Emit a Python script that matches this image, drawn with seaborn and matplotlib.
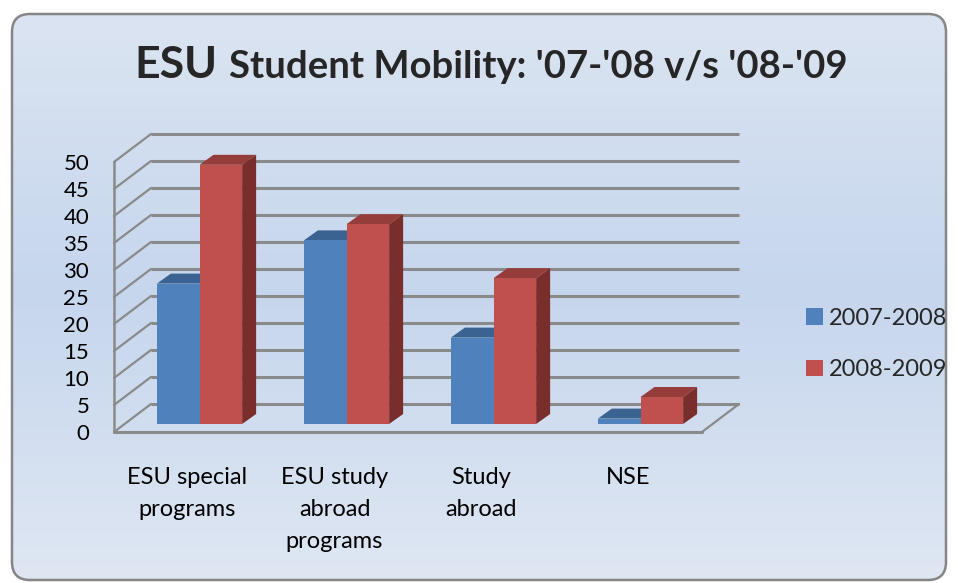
import numpy as np
import pandas as pd
import matplotlib
matplotlib.use("Agg")
import matplotlib.pyplot as plt
import seaborn as sns
from matplotlib.patches import FancyBboxPatch, Polygon
from matplotlib.colors import LinearSegmentedColormap
from matplotlib.transforms import ScaledTranslation

# data
categories = ["ESU special\nprograms", "ESU study\nabroad\nprograms", "Study\nabroad", "NSE"]
periods = ["2007-2008", "2008-2009"]
values_0708 = [26, 34, 16, 1]
values_0809 = [48, 37, 27, 5]
y_ticks = list(range(0, 55, 5))

front_colors = {"2007-2008": "#4f81bd", "2008-2009": "#c0504d"}
top_colors = ["#3b6391", "#953d3a"]
side_colors = ["#2f5382", "#792e2c"]
grid_color = "#8a8a8a"

df = pd.DataFrame({
    "Category": categories * 2,
    "Period": [periods[0]] * len(categories) + [periods[1]] * len(categories),
    "Students": values_0708 + values_0809,
})

sns.set_theme(style="white")
plt.rcParams["font.family"] = ["Lato", "DejaVu Sans"]

W, H = 958, 583
fig = plt.figure(figsize=(W / 100, H / 100), dpi=100)

# --- background panel with rounded frame and soft gradient ---
bg = fig.add_axes([0, 0, 1, 1])
bg.set_xlim(0, W)
bg.set_ylim(H, 0)
bg.axis("off")
frame = FancyBboxPatch((12, 14), W - 24, 566, boxstyle="round,pad=0,rounding_size=18",
                       fc="none", ec="#868686", lw=1.8, zorder=3)
bg.add_patch(frame)
grad = LinearSegmentedColormap.from_list(
    "panel", [(0, "#dce5f2"), (0.5, "#c6d6ed"), (1, "#dfe7f3")])
im = bg.imshow(np.linspace(0, 1, 256).reshape(-1, 1), cmap=grad, aspect="auto",
               extent=(0, W, H, 0), zorder=1)
im.set_clip_path(frame)

# --- plot area (bar plane) ---
L, R, B, T = 126, 714, 424, 154
ax = fig.add_axes([L / W, 1 - B / H, (R - L) / W, (B - T) / H])
ax.patch.set_alpha(0)

sns.barplot(data=df, x="Category", y="Students", hue="Period", palette=front_colors,
            width=0.58, saturation=1, edgecolor="none", linewidth=0, zorder=3, ax=ax)
handles, labels = ax.get_legend_handles_labels()
if ax.get_legend() is not None:
    ax.get_legend().remove()

x_lo, x_hi = -0.5, len(categories) - 0.5
ax.set_xlim(x_lo, x_hi)
ax.set_ylim(0, 50)

px_x = (R - L) / (x_hi - x_lo)
px_y = (B - T) / 50

# 3D faces of the bars
ddx, ddy = 14 / px_x, 10 / px_y
for i, cont in enumerate(ax.containers):
    for bar in cont:
        x0, w, h = bar.get_x(), bar.get_width(), bar.get_height()
        ax.add_patch(Polygon([(x0, h), (x0 + ddx, h + ddy), (x0 + w + ddx, h + ddy), (x0 + w, h)],
                             closed=True, fc=top_colors[i], ec="none", zorder=2, clip_on=False))
        ax.add_patch(Polygon([(x0 + w, 0), (x0 + w + ddx, ddy), (x0 + w + ddx, h + ddy), (x0 + w, h)],
                             closed=True, fc=side_colors[i], ec="none", zorder=2, clip_on=False))

# walls: front plane and back plane offsets
fx, fy = -12 / px_x, -8 / px_y
bx, by = 25 / px_x, 20 / px_y
for v in y_ticks:
    ax.plot([x_lo + bx, x_hi + bx], [v + by, v + by], color=grid_color, lw=2.2,
            zorder=1, clip_on=False, solid_capstyle="butt")
    ax.plot([x_lo + fx, x_lo + bx], [v + fy, v + by], color=grid_color, lw=1.6,
            zorder=1, clip_on=False)
ax.plot([x_lo + fx, x_lo + fx], [fy, y_ticks[-1] + fy], color=grid_color, lw=1.8, zorder=1, clip_on=False)
ax.plot([x_lo + fx, x_hi + fx], [fy, fy], color=grid_color, lw=2.2, zorder=1, clip_on=False)
ax.plot([x_hi + fx, x_hi + bx], [fy, by], color=grid_color, lw=1.6, zorder=1, clip_on=False)

# ticks
sns.despine(ax=ax, left=True, bottom=True)
ax.grid(False)
ax.set_xlabel("")
ax.set_ylabel("")
ax.set_yticks(y_ticks)
ax.set_yticklabels([str(v) for v in y_ticks])
ax.tick_params(axis="y", length=0, pad=26.5, labelsize=16, labelcolor="black")
for lab in ax.get_yticklabels():
    lab.set_transform(lab.get_transform() + ScaledTranslation(0, -0.08, fig.dpi_scale_trans))

ax.set_xticks(range(len(categories)))
ax.set_xticklabels(categories)
ax.tick_params(axis="x", length=0, pad=31, labelsize=17, labelcolor="black")
for lab in ax.get_xticklabels():
    lab.set_linespacing(1.65)
    lab.set_transform(lab.get_transform() + ScaledTranslation(-0.12, 0, fig.dpi_scale_trans))

# legend
fig.legend(handles, labels, loc="center left", bbox_to_anchor=(806 / W, 1 - 344 / H),
           frameon=False, fontsize=17, handlelength=0.7, handleheight=0.7,
           handletextpad=0.25, labelspacing=1.3, borderpad=0, borderaxespad=0)

# title: larger "ESU" followed by the rest
renderer = fig.canvas.get_renderer()
base_y = 1 - 78 / H
t1 = fig.text(0, base_y, "ESU", fontsize=32, fontweight="bold", va="baseline", ha="left")
t2 = fig.text(0, base_y, "Student Mobility: '07-'08 v/s '08-'09", fontsize=27.5,
              fontweight="bold", va="baseline", ha="left")
w1 = t1.get_window_extent(renderer).width
w2 = t2.get_window_extent(renderer).width
gap = 11
start = 491 - (w1 + gap + w2) / 2
t1.set_x(start / W)
t2.set_x((start + w1 + gap) / W)

fig.savefig("out.png", dpi=100)
